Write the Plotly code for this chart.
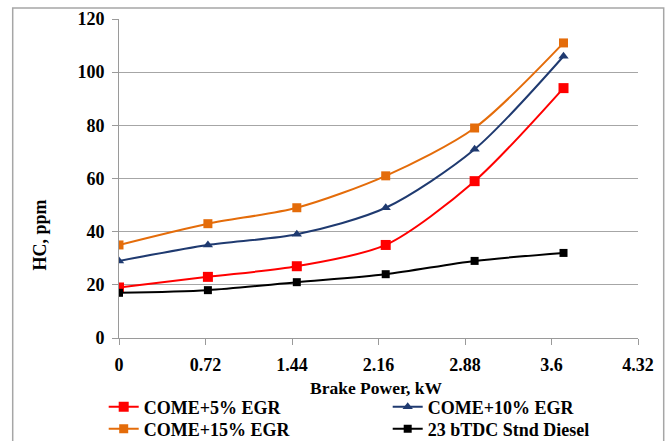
import plotly.graph_objects as go

brake_power = [0, 0.74, 1.48, 2.22, 2.96, 3.70]
come5 = [19, 23, 27, 35, 59, 94]
come10 = [29, 35, 39, 49, 71, 106]
come15 = [35, 43, 49, 61, 79, 111]
diesel = [17, 18, 21, 24, 29, 32]
x_ticks = [0, 0.72, 1.44, 2.16, 2.88, 3.6, 4.32]
y_ticks = [0, 20, 40, 60, 80, 100, 120]

L, R, T, B = 119.3, 638.3, 19, 338.3
W, H = R - L, B - T

def px(x):
    return (x - L) / W

def py(y):
    return (B - y) / H

font_family = "Liberation Serif"

# (name, values, colour, symbol, size, legend id, legend left px, legend top px)
series = [
    ("COME+5% EGR", come5, "#FF0000", "square", 10, "legend", 104, 389),
    ("COME+10% EGR", come10, "#1F3A70", "triangle-up", 9, "legend2", 388, 389),
    ("COME+15% EGR", come15, "#E46C0A", "square", 9, "legend3", 104, 411),
    ("23 bTDC Stnd Diesel", diesel, "#000000", "square", 8, "legend4", 388, 411),
]

fig = go.Figure()
legends = {}
for name, ys, col, sym, sz, lg, lx, ly in series:
    fig.add_trace(go.Scatter(
        x=brake_power, y=ys, name=name, mode="lines+markers",
        line=dict(color=col, width=2, shape="spline", smoothing=0.8),
        marker=dict(color=col, symbol=sym, size=sz),
        legend=lg,
    ))
    legends[lg] = dict(
        x=px(lx), y=py(ly), xanchor="left", yanchor="top",
        bgcolor="rgba(0,0,0,0)", borderwidth=0,
        font=dict(family=font_family, size=18, weight="bold", color="#000000"),
        itemwidth=30,
    )

fig.update_layout(
    width=670, height=441,
    margin=dict(l=L, r=670 - R, t=T, b=441 - B, autoexpand=False),
    paper_bgcolor="white", plot_bgcolor="white",
    font=dict(family=font_family, size=18, color="#000000", weight="bold"),
    xaxis=dict(
        range=[0, 4.32], tickvals=x_ticks, ticktext=[str(v) for v in x_ticks],
        showgrid=False, zeroline=False, showline=True, linecolor="#9A9A9A", linewidth=1,
        ticks="outside", ticklen=6, tickcolor="#9A9A9A", ticklabelstandoff=4,
        tickfont=dict(family=font_family, size=18, weight="bold"),
    ),
    yaxis=dict(
        range=[0, 120], tickvals=y_ticks,
        showgrid=True, gridcolor="#A6A6A6", gridwidth=1, zeroline=False,
        showline=True, linecolor="#9A9A9A", linewidth=1,
        ticks="outside", ticklen=6, tickcolor="#9A9A9A", ticklabelstandoff=4,
        tickfont=dict(family=font_family, size=18, weight="bold"),
    ),
    showlegend=True,
    **legends,
)

fig.add_annotation(text="HC, ppm", x=px(40), y=py(235), xref="paper", yref="paper",
                   textangle=-90, showarrow=False, xanchor="center", yanchor="middle",
                   font=dict(size=18, family=font_family, weight="bold"))
fig.add_annotation(text="Brake Power, kW", x=px(377), y=py(388), xref="paper", yref="paper",
                   showarrow=False, xanchor="center", yanchor="middle",
                   font=dict(size=17.5, family=font_family, weight="bold"))

fig.add_shape(type="rect", xref="paper", yref="paper",
              x0=px(13), x1=px(664), y0=py(470), y1=py(8),
              line=dict(color="#A6A6A6", width=1.5), layer="below")

fig.write_html("out.html")
